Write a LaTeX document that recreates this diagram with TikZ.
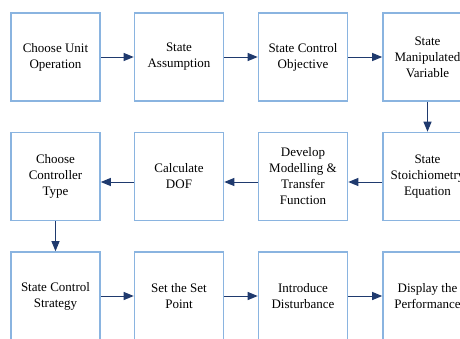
\documentclass[tikz,border=0pt]{standalone}
\usepackage{fontspec}
\setmainfont{Liberation Serif}
\usetikzlibrary{arrows.meta}
\definecolor{boxblue}{HTML}{8AB4E0}
\definecolor{navy}{HTML}{1F3A6E}
\begin{document}
\begin{tikzpicture}[x=1pt,y=-1pt,
  stepbox/.style={draw=boxblue, line width=1.6pt, fill=white, rectangle,
    minimum width=89pt, minimum height=88pt, inner sep=0pt, align=center,
    font=\fontsize{13}{16}\selectfont},
  conn/.style={draw=navy, line width=1pt, -{Triangle[length=10pt,width=8pt]}}]
\useasboundingbox (0,0) rectangle (460,338);
\node[stepbox] (a1) at (55.5,57) {Choose Unit\\Operation};
\node[stepbox] (a2) at (179,57) {State\\Assumption};
\node[stepbox] (a3) at (303,57) {State Control\\Objective};
\node[stepbox] (a4) at (427.5,57) {State\\Manipulated\\Variable};
\node[stepbox] (b4) at (427.5,176.5) {State\\Stoichiometry\\Equation};
\node[stepbox] (b3) at (303,176.5) {Develop\\Modelling \&\\Transfer\\Function};
\node[stepbox] (b2) at (179,176.5) {Calculate\\DOF};
\node[stepbox] (b1) at (55.5,176.5) {Choose\\Controller\\Type};
\node[stepbox] (c1) at (55.5,296) {State Control\\Strategy};
\node[stepbox] (c2) at (179,296) {Set the Set\\Point};
\node[stepbox] (c3) at (303,296) {Introduce\\Disturbance};
\node[stepbox] (c4) at (427.5,296) {Display the\\Performance};
\draw[conn] (a1) -- (a2);
\draw[conn] (a2) -- (a3);
\draw[conn] (a3) -- (a4);
\draw[conn] (a4) -- (b4);
\draw[conn] ([yshift=-5.5pt]b4.west) -- ([yshift=-5.5pt]b3.east);
\draw[conn] ([yshift=-5.5pt]b3.west) -- ([yshift=-5.5pt]b2.east);
\draw[conn] ([yshift=-5.5pt]b2.west) -- ([yshift=-5.5pt]b1.east);
\draw[conn] (b1) -- (c1);
\draw[conn] (c1) -- (c2);
\draw[conn] (c2) -- (c3);
\draw[conn] (c3) -- (c4);
\end{tikzpicture}
\end{document}
